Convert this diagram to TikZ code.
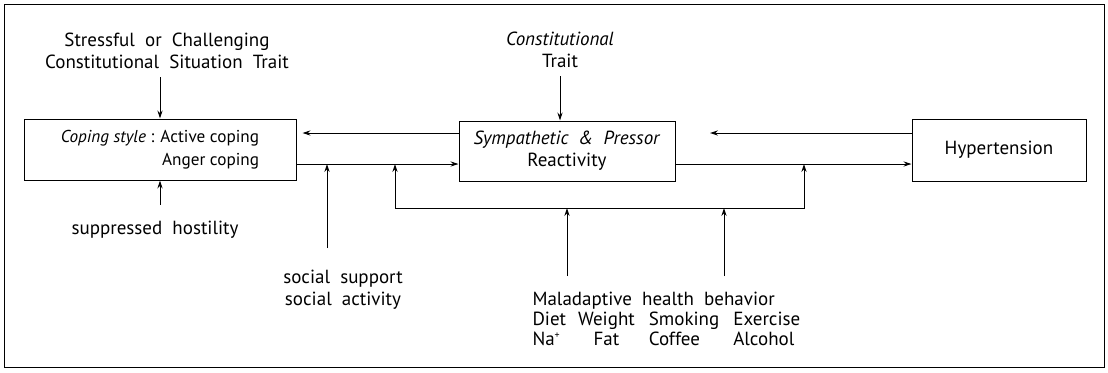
\documentclass[tikz,border=0pt]{standalone}
\usepackage{fontspec}
\setmainfont{PT Sans}
\newfontfamily\widefont{PT Sans}[WordSpace=2]
\usetikzlibrary{positioning,arrows.meta}

\begin{document}
\begin{tikzpicture}[x=0.5pt,y=-0.5pt,->,>={Stealth[length=4pt,width=2.6pt]},line width=0.5pt,
  box/.style={draw,rectangle,inner sep=0pt},
  lbl/.style={inner sep=0pt,align=center,font=\widefont\fontsize{9.5}{11}\selectfont}]
\useasboundingbox (0,0) rectangle (1108,372);
\draw[-] (4,4) rectangle (1104,367);

% boxes
\node[box,lbl,align=right,font=\normalfont\fontsize{8.6}{11.5}\selectfont,
  minimum width=136pt,minimum height=30.5pt] (cope) at (160,149.5)
  {\textit{Coping style} : Active coping\\Anger coping};
\node[box,lbl,minimum width=108pt,minimum height=30pt] (symp) at (567,151)
  {\textit{Sympathetic \& Pressor}\\Reactivity};
\node[box,lbl,minimum width=87pt,minimum height=31pt] (hyper) at (999,150) {Hypertension};

% influences
\node[lbl] (stress) at (167,51) {Stressful or Challenging\\Constitutional Situation Trait};
\node[lbl] (const) at (560,50) {\textit{Constitutional}\\Trait};
\node[lbl] (host) at (155,230) {suppressed hostility};
\node[lbl] (social) at (343,290) {social support\\social activity};
\node[lbl,anchor=north west] (mal) at (532,290)
  {\begin{tabular}{@{}l@{\hspace{6pt}}c@{\hspace{7pt}}l@{\hspace{7pt}}l@{}}
   \multicolumn{4}{@{}l}{Maladaptive health behavior}\\[-1pt]
   Diet & Weight & Smoking & Exercise\\[-1pt]
   Na\textsuperscript{\tiny +} & Fat & Coffee & Alcohol
   \end{tabular}};

\coordinate (top) at (0,133);
\coordinate (bot) at (0,164);
\coordinate (hend) at (710,133);
\coordinate (sj) at (327,164);
\coordinate (ss) at (327,248);
\coordinate (j1) at (395,164);
\coordinate (j2) at (804,164);
\coordinate (br) at (0,208);
\coordinate (m1) at (567,276);
\coordinate (m2) at (724,276);

% feedback and forward paths
\draw (hyper.west |- top) -- (hend);
\draw[shorten >=3pt] (symp.west |- top) -- (cope.east |- top);
\draw (cope.east |- bot) -- (symp.west |- bot);
\draw (symp.east |- bot) -- (hyper.west |- bot);

% inputs
\draw[shorten <=4pt] (stress.south -| cope.north) -- (cope.north);
\draw[shorten <=4pt] (const.south) -- (symp.north -| const.south);
\draw[shorten <=8pt] (host.north -| cope.south) -- (cope.south);
\draw (ss) -- (sj);
\draw[<->] (j1) -- (j1 |- br) -- (j2 |- br) -- (j2);
\draw (m1) -- (m1 |- br);
\draw (m2) -- (m2 |- br);
\end{tikzpicture}
\end{document}
